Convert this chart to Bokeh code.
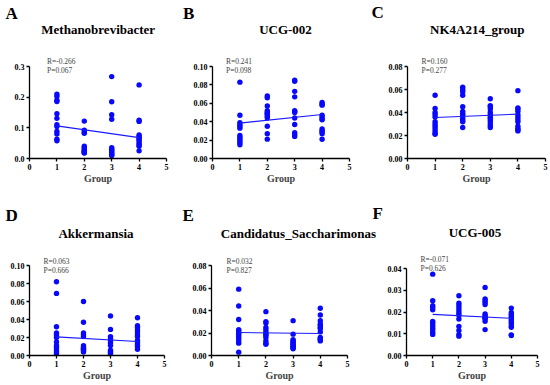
from bokeh.plotting import figure
from bokeh.layouts import column, row
from bokeh.models import Range1d, FixedTicker, Label, NumeralTickFormatter
from bokeh.embed import file_html
from bokeh.resources import INLINE

# ---------------- data ----------------
groups = [1, 2, 3, 4]
x_ticks = [0, 1, 2, 3, 4, 5]

titles = ["Methanobrevibacter", "UCG-002", "NK4A214_group",
          "Akkermansia", "Candidatus_Saccharimonas", "UCG-005"]
letters = ["A", "B", "C", "D", "E", "F"]
r_texts = ["R=-0.266", "R=0.241", "R=0.160", "R=0.063", "R=0.032", "R=-0.071"]
p_texts = ["P=0.067", "P=0.098", "P=0.277", "P=0.666", "P=0.827", "P=0.626"]
y_ticks = [
    [0.0, 0.1, 0.2, 0.3],
    [0.0, 0.02, 0.04, 0.06, 0.08, 0.10],
    [0.0, 0.02, 0.04, 0.06, 0.08],
    [0.0, 0.02, 0.04, 0.06, 0.08, 0.10],
    [0.0, 0.02, 0.04, 0.06, 0.08],
    [0.0, 0.01, 0.02, 0.03, 0.04],
]
y_formats = ["0.0", "0.00", "0.00", "0.00", "0.00", "0.00"]

methano = [
    [0.210, 0.203, 0.190, 0.186, 0.146, 0.131, 0.110, 0.104, 0.088, 0.080, 0.063, 0.058],
    [0.122, 0.092, 0.086, 0.082, 0.040, 0.035, 0.031, 0.027, 0.024, 0.021, 0.019, 0.018],
    [0.267, 0.185, 0.143, 0.128, 0.035, 0.030, 0.026, 0.022, 0.018, 0.015, 0.012, 0.010],
    [0.240, 0.125, 0.121, 0.077, 0.072, 0.067, 0.062, 0.057, 0.050, 0.044, 0.040, 0.025],
]
ucg002 = [
    [0.083, 0.047, 0.039, 0.037, 0.035, 0.033, 0.025, 0.023, 0.021, 0.019, 0.017, 0.015],
    [0.068, 0.066, 0.057, 0.052, 0.050, 0.049, 0.048, 0.046, 0.044, 0.035, 0.027, 0.021],
    [0.085, 0.084, 0.073, 0.067, 0.052, 0.051, 0.050, 0.044, 0.037, 0.028, 0.026, 0.024],
    [0.061, 0.059, 0.058, 0.047, 0.045, 0.043, 0.042, 0.032, 0.030, 0.029, 0.027, 0.021],
]
nk4a214 = [
    [0.055, 0.0435, 0.040, 0.038, 0.036, 0.032, 0.030, 0.028, 0.026, 0.024, 0.022, 0.021],
    [0.062, 0.060, 0.058, 0.055, 0.045, 0.041, 0.039, 0.038, 0.035, 0.033, 0.032, 0.027],
    [0.052, 0.046, 0.045, 0.043, 0.040, 0.038, 0.036, 0.035, 0.033, 0.031, 0.029, 0.027],
    [0.059, 0.044, 0.043, 0.041, 0.038, 0.036, 0.034, 0.032, 0.028, 0.026, 0.025, 0.024],
]
akker = [
    [0.082, 0.069, 0.032, 0.025, 0.023, 0.020, 0.015, 0.011, 0.009, 0.006, 0.004, 0.002],
    [0.060, 0.037, 0.025, 0.023, 0.021, 0.011, 0.009, 0.008, 0.007, 0.006, 0.005, 0.004],
    [0.044, 0.029, 0.021, 0.019, 0.016, 0.014, 0.011, 0.006, 0.005, 0.004, 0.003, 0.002],
    [0.042, 0.033, 0.031, 0.028, 0.026, 0.023, 0.021, 0.017, 0.014, 0.012, 0.010, 0.007],
]
sacchari = [
    [0.059, 0.044, 0.032, 0.023, 0.022, 0.020, 0.019, 0.017, 0.015, 0.013, 0.011, 0.003],
    [0.039, 0.030, 0.029, 0.025, 0.023, 0.021, 0.019, 0.018, 0.016, 0.013, 0.011, 0.010],
    [0.031, 0.019, 0.014, 0.013, 0.012, 0.011, 0.010, 0.009, 0.008, 0.007, 0.007, 0.006],
    [0.042, 0.036, 0.031, 0.028, 0.027, 0.025, 0.024, 0.021, 0.016, 0.015, 0.014, 0.013],
]
ucg005 = [
    [0.0374, 0.0252, 0.0229, 0.0221, 0.0210, 0.0157, 0.0148, 0.0137, 0.0127, 0.0119, 0.0107, 0.0097],
    [0.0275, 0.0240, 0.0229, 0.0218, 0.0206, 0.0195, 0.0186, 0.0168, 0.0134, 0.0115, 0.0096, 0.0089],
    [0.0313, 0.0260, 0.0252, 0.0244, 0.0234, 0.0191, 0.0183, 0.0176, 0.0172, 0.0168, 0.0157, 0.0119],
    [0.0218, 0.0198, 0.0190, 0.0183, 0.0176, 0.0165, 0.0157, 0.0148, 0.0137, 0.0130, 0.0095, 0.0092],
]
panel_values = [methano, ucg002, nk4a214, akker, sacchari, ucg005]

# regression line values at group 1 and group 4
fit_x = [1, 4]
fit_y = [
    [0.1065, 0.068],
    [0.0385, 0.0478],
    [0.0357, 0.0386],
    [0.0207, 0.0155],
    [0.0204, 0.0196],
    [0.0189, 0.0171],
]

# ---------------- layout (pixels) ----------------
FONT = "Liberation Serif"
W_TOTAL = 550
header_h = [45, 56]
plot_h = [145, 139]
widths = [185, 190, 175, 185, 190, 175]
b_left = [29, 27, 32, 29, 26, 31]
b_right = [19, 26, 5, 21, 28, 13]
b_bottom = [32, 32, 32, 30, 30, 30]
axis_px = [92, 92, 92, 90, 90, 87]          # pixel length of the drawn y axis
# header-local positions, y measured from the top of the header strip
letter_pos = [(5, 13), (182.5, 13), (371, 12), (5, 25), (182, 25), (372, 23)]
title_pos = [(97.7, 29.3), (285, 29.3), (476.7, 29.3), (95.5, 42.7), (298, 42.7), (474.5, 41.7)]
# panel-local positions, y measured up from the x axis
rp_pos = [(17.5, 97, 88), (13.5, 97, 88), (14, 97, 88), (14, 94, 85), (15, 94, 85), (14, 96.5, 87.5)]


def header(k):
    hh = header_h[k]
    h = figure(width=W_TOTAL, height=hh, output_backend="svg", toolbar_location=None,
               x_axis_location=None, y_axis_location=None,
               x_range=Range1d(0, 1), y_range=Range1d(0, 1),
               min_border=0, min_border_left=0, min_border_right=0,
               min_border_top=0, min_border_bottom=0)
    h.outline_line_color = None
    h.xgrid.visible = False
    h.ygrid.visible = False
    for i in range(3 * k, 3 * k + 3):
        lx, ly = letter_pos[i]
        h.add_layout(Label(x=lx, y=hh - ly, x_units="screen", y_units="screen",
                           text=letters[i], text_font=FONT, text_font_style="bold",
                           text_font_size="17px", text_align="left", text_baseline="middle",
                           text_color="black"))
        tx, ty = title_pos[i]
        h.add_layout(Label(x=tx, y=hh - ty, x_units="screen", y_units="screen",
                           text=titles[i], text_font=FONT, text_font_style="bold",
                           text_font_size="13px", text_align="center", text_baseline="middle",
                           text_color="black"))
    return h


def panel(i):
    k = i // 3
    top = y_ticks[i][-1]
    frame_h = plot_h[k] - b_bottom[i]
    y_end = top * frame_h / axis_px[i]
    p = figure(width=widths[i], height=plot_h[k], output_backend="svg",
               toolbar_location=None, x_range=Range1d(0, 5), y_range=Range1d(0, y_end),
               min_border_left=b_left[i], min_border_right=b_right[i],
               min_border_top=0, min_border_bottom=b_bottom[i])
    p.outline_line_color = None
    p.xgrid.visible = False
    p.ygrid.visible = False

    for g, vals in zip(groups, panel_values[i]):
        p.scatter([g] * len(vals), vals, size=5.4, fill_color="#0808ff", line_color=None)
    p.line(fit_x, fit_y[i], line_color="#1a1aff", line_width=1.1)

    p.xaxis.ticker = FixedTicker(ticks=x_ticks)
    p.yaxis.ticker = FixedTicker(ticks=y_ticks[i])
    p.yaxis.formatter = NumeralTickFormatter(format=y_formats[i])
    p.yaxis.bounds = (0, top)
    p.xaxis.bounds = (0, 5)
    p.xaxis.axis_label = "Group"
    p.xaxis.axis_label_text_font = FONT
    p.xaxis.axis_label_text_font_style = "bold"
    p.xaxis.axis_label_text_font_size = "10px"
    p.xaxis.axis_label_standoff = 0
    for ax in (p.xaxis, p.yaxis):
        ax.axis_line_width = 1.3
        ax.axis_line_color = "black"
        ax.major_tick_line_width = 1.3
        ax.major_tick_line_color = "black"
        ax.major_tick_out = 3
        ax.major_tick_in = 0
        ax.minor_tick_out = 0
        ax.minor_tick_in = 0
        ax.major_label_text_font = FONT
        ax.major_label_text_font_style = "bold"
        ax.major_label_text_font_size = "8px"
        ax.major_label_text_color = "black"
        ax.major_label_standoff = 2

    rx, ry, py = rp_pos[i]
    p.add_layout(Label(x=rx, y=ry, x_units="screen", y_units="screen", text=r_texts[i],
                       text_font=FONT, text_font_size="7.5px",
                       text_align="left", text_baseline="middle", text_color="#444444"))
    p.add_layout(Label(x=rx, y=py, x_units="screen", y_units="screen", text=p_texts[i],
                       text_font=FONT, text_font_size="7.5px",
                       text_align="left", text_baseline="middle", text_color="#444444"))
    return p


figs = [panel(i) for i in range(6)]
layout = column(
    header(0),
    row(*figs[:3], spacing=0),
    header(1),
    row(*figs[3:], spacing=0),
    spacing=0,
)

open("out.html", "w").write(file_html(layout, INLINE))
